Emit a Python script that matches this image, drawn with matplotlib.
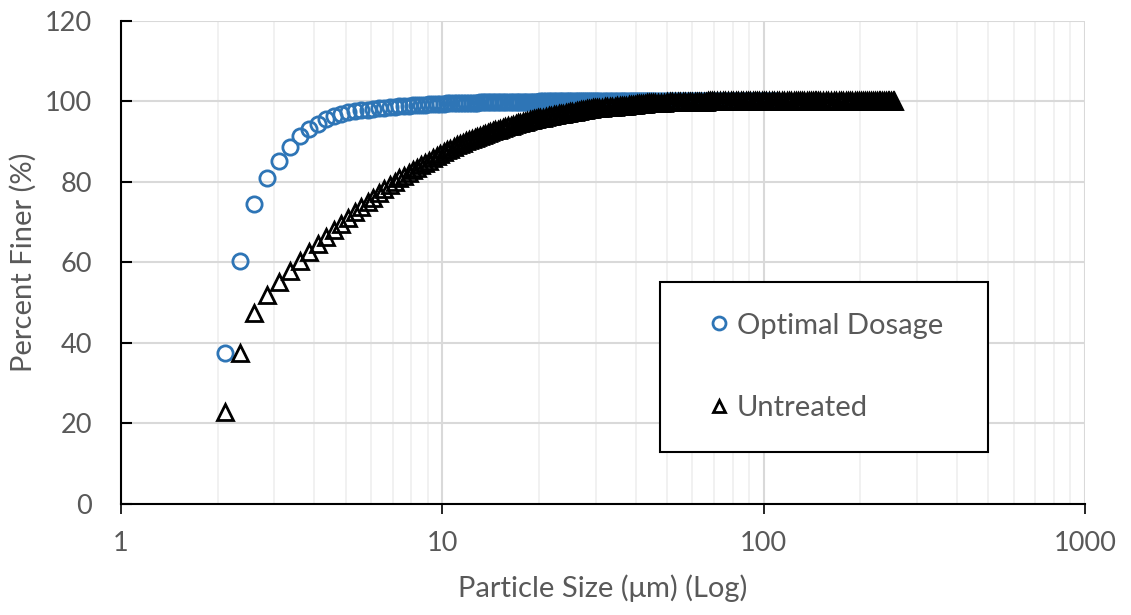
import matplotlib
matplotlib.use('Agg')
import matplotlib.pyplot as plt
from matplotlib.patches import Rectangle
from matplotlib.ticker import FixedLocator, LogLocator, NullFormatter

# Particle size channels, µm
size_um = [
    2.1, 2.35, 2.6, 2.85, 3.1, 3.35, 3.6, 3.85, 4.1, 4.35, 4.6, 4.85, 5.1, 5.35,
    5.6, 5.85, 6.1, 6.35, 6.6, 6.85, 7.1, 7.35, 7.6, 7.85, 8.1, 8.35, 8.6, 8.85,
    9.1, 9.35, 9.6, 9.85, 10.1, 10.35, 10.6, 10.85, 11.1, 11.35, 11.6, 11.85,
    12.1, 12.35, 12.6, 12.85, 13.1, 13.35, 13.6, 13.85, 14.1, 14.35, 14.6, 14.85,
    15.1,
    15.4, 15.7, 16.0, 16.3, 16.6, 16.9, 17.2, 17.5, 17.8, 18.1, 18.4, 18.7, 19.0,
    19.3, 19.6, 19.9, 20.2,
    20.6, 21.0, 21.4, 21.8, 22.2, 22.6, 23.0, 23.4, 23.8, 24.2, 24.6, 25.0, 25.4,
    25.8, 26.2, 26.6, 27.0, 27.4, 27.8, 28.2, 28.6, 29.0, 29.4, 29.8, 30.2,
    30.8, 31.4, 32.0, 32.6, 33.2, 33.8, 34.4, 35.0, 35.6, 36.2, 36.8, 37.4, 38.0,
    38.6, 39.2, 39.8, 40.4, 41.0, 41.6, 42.2, 42.8, 43.4, 44.0, 44.6, 45.2,
    46, 47, 48, 49, 50, 51, 52, 53, 54, 55, 56, 57, 58, 59, 60, 61, 62, 63, 64,
    65, 66, 67, 68, 69, 70,
    71.5, 73, 74.5, 76, 77.5, 79, 80.5, 82, 83.5, 85, 86.5, 88, 89.5, 91, 92.5,
    94, 95.5, 97, 98.5, 100,
    102, 104, 106, 108, 110, 112, 114, 116, 118, 120, 122, 124, 126, 128, 130,
    132, 134, 136, 138, 140, 142, 144, 146, 148, 150,
    153, 156, 159, 162, 165, 168, 171, 174, 177, 180, 183, 186, 189, 192, 195,
    198, 201, 204, 207, 210, 213, 216, 219, 222, 225, 228, 231, 234, 237, 240,
    243, 246, 249, 252, 255,
]

# Percent finer, optimal dosage (measured up to ~110 µm)
optimal_pct = [
    37.5, 60.4, 74.5, 81.0, 85.3, 88.6, 91.3, 93.2, 94.5, 95.6, 96.4, 96.9, 97.3,
    97.6, 97.8, 98.0, 98.15, 98.3, 98.45, 98.6, 98.7, 98.8, 98.9, 99.0, 99.05,
    99.1, 99.15, 99.2, 99.25, 99.3, 99.35, 99.4, 99.45, 99.5, 99.5, 99.55, 99.55,
    99.6, 99.6, 99.65, 99.65, 99.7, 99.7, 99.7, 99.75, 99.75, 99.75, 99.8, 99.8,
    99.8, 99.8, 99.85, 99.85,
    99.85, 99.85, 99.9, 99.9, 99.9, 99.9, 99.9, 99.9, 99.95, 99.95, 99.95, 99.95,
    99.95, 99.95, 99.95, 99.95, 100.0,
    100.0, 100.0, 100.0, 100.0, 100.0, 100.0, 100.0, 100.0, 100.0, 100.0, 100.0,
    100.0, 100.0, 100.0, 100.0, 100.0, 100.0, 100.0, 100.0, 100.0, 100.0, 100.0,
    100.0, 100.0, 100.0,
    100.0, 100.0, 100.0, 100.0, 100.0, 100.0, 100.0, 100.0, 100.0, 100.0, 100.0,
    100.0, 100.0, 100.0, 100.0, 100.0, 100.0, 100.0, 100.0, 100.0, 100.0, 100.0,
    100.0, 100.0, 100.0,
    100.0, 100.0, 100.0, 100.0, 100.0, 100.0, 100.0, 100.0, 100.0, 100.0, 100.0,
    100.0, 100.0, 100.0, 100.0, 100.0, 100.0, 100.0, 100.0, 100.0, 100.0, 100.0,
    100.0, 100.0, 100.0,
    100.0, 100.0, 100.0, 100.0, 100.0, 100.0, 100.0, 100.0, 100.0, 100.0, 100.0,
    100.0, 100.0, 100.0, 100.0, 100.0, 100.0, 100.0, 100.0, 100.0,
    100.0, 100.0, 100.0, 100.0, 100.0,
]

# Percent finer, untreated sample
untreated_pct = [
    22.8, 37.6, 47.4, 51.9, 55.1, 57.9, 60.4, 62.6, 64.5, 66.3, 68.0, 69.6, 71.1,
    72.5, 73.8, 75.0, 76.1, 77.2, 78.2, 79.2, 80.1, 80.9, 81.6, 82.3, 82.9, 83.5,
    84.1, 84.7, 85.3, 85.9, 86.4, 86.9, 87.4, 87.9, 88.3, 88.7, 89.1, 89.5, 89.8,
    90.1, 90.4, 90.7, 91.0, 91.2, 91.5, 91.7, 92.0, 92.2, 92.4, 92.6, 92.8, 93.0,
    93.2,
    93.4, 93.6, 93.8, 94.0, 94.2, 94.4, 94.55, 94.7, 94.85, 95.0, 95.15, 95.3,
    95.45, 95.6, 95.7, 95.8, 95.9,
    96.0, 96.15, 96.3, 96.45, 96.6, 96.7, 96.8, 96.9, 97.0, 97.1, 97.2, 97.3,
    97.4, 97.5, 97.6, 97.7, 97.8, 97.9, 98.0, 98.1, 98.2, 98.25, 98.3, 98.35,
    98.4,
    98.45, 98.5, 98.55, 98.6, 98.65, 98.7, 98.75, 98.8, 98.85, 98.9, 98.95, 99.0,
    99.05, 99.1, 99.15, 99.2, 99.25, 99.3, 99.35, 99.4, 99.45, 99.5, 99.55, 99.6,
    99.6,
    99.65, 99.65, 99.7, 99.7, 99.75, 99.75, 99.8, 99.8, 99.8, 99.85, 99.85, 99.85,
    99.9, 99.9, 99.9, 99.9, 99.95, 99.95, 99.95, 99.95, 99.95, 100.0, 100.0,
    100.0, 100.0,
    100.0, 100.0, 100.0, 100.0, 100.0, 100.0, 100.0, 100.0, 100.0, 100.0, 100.0,
    100.0, 100.0, 100.0, 100.0, 100.0, 100.0, 100.0, 100.0, 100.0,
    100.0, 100.0, 100.0, 100.0, 100.0, 100.0, 100.0, 100.0, 100.0, 100.0, 100.0,
    100.0, 100.0, 100.0, 100.0, 100.0, 100.0, 100.0, 100.0, 100.0, 100.0, 100.0,
    100.0, 100.0, 100.0,
    100.0, 100.0, 100.0, 100.0, 100.0, 100.0, 100.0, 100.0, 100.0, 100.0, 100.0,
    100.0, 100.0, 100.0, 100.0, 100.0, 100.0, 100.0, 100.0, 100.0, 100.0, 100.0,
    100.0, 100.0, 100.0, 100.0, 100.0, 100.0, 100.0, 100.0, 100.0, 100.0, 100.0,
    100.0, 100.0,
]

x_ticks = [1, 10, 100, 1000]
y_ticks = [0, 20, 40, 60, 80, 100, 120]

TEXT = '#595959'
BLUE = '#2e75b6'

plt.rcParams['font.family'] = ['Lato', 'DejaVu Sans']

fig = plt.figure(figsize=(11.31, 6.15), dpi=100)
ax = fig.add_axes([0.107, 0.1805, 0.8523, 0.7854])

ax.plot(size_um[:len(optimal_pct)], optimal_pct, linestyle='none', marker='o',
        markersize=11, markerfacecolor='none', markeredgecolor=BLUE,
        markeredgewidth=2.0, label='Optimal Dosage', zorder=3)
ax.plot(size_um, untreated_pct, linestyle='none', marker='^',
        markersize=11, markerfacecolor='none', markeredgecolor='black',
        markeredgewidth=2.0, label='Untreated', zorder=4)

ax.set_xscale('log')
ax.set_xlim(1, 1000)
ax.set_ylim(0, 120)
ax.xaxis.set_major_locator(FixedLocator(x_ticks))
ax.set_xticklabels([str(t) for t in x_ticks])
ax.xaxis.set_minor_locator(LogLocator(base=10, subs=range(2, 10)))
ax.xaxis.set_minor_formatter(NullFormatter())
ax.set_yticks(y_ticks)

ax.set_axisbelow(True)
ax.grid(which='major', color='#d9d9d9', linewidth=1.5)
ax.grid(which='minor', axis='x', color='#efefef', linewidth=1.2)

for side in ['top', 'right']:
    ax.spines[side].set_visible(False)
for side in ['left', 'bottom']:
    ax.spines[side].set_color('black')
    ax.spines[side].set_linewidth(1.5)

ax.tick_params(axis='x', which='major', direction='out', length=7.5, width=1.2,
               color='black', pad=12, labelsize=19.5, labelcolor=TEXT)
ax.tick_params(axis='x', which='minor', length=0)
ax.tick_params(axis='y', direction='in', length=8, width=1.5, color='black',
               pad=21, labelsize=19.5, labelcolor=TEXT)

ax.set_xlabel('Particle Size (μm) (Log)', fontsize=21, color=TEXT, labelpad=13)
ax.set_ylabel('Percent Finer (%)', fontsize=21, color=TEXT, labelpad=6)

# legend box drawn as a plain rectangle, entries placed inside it
ax.add_patch(Rectangle((0.559, 0.1077), 0.340, 0.3519, transform=ax.transAxes,
                       facecolor='white', edgecolor='black', linewidth=1.5,
                       zorder=5))
leg = ax.legend(loc='center left', bbox_to_anchor=(0.590, 0.2836),
                frameon=False, fontsize=21, labelcolor=TEXT, borderpad=0,
                handlelength=1.0, handletextpad=0.12, labelspacing=1.95,
                markerscale=0.85)
leg.set_zorder(6)

fig.savefig('out.png', dpi=100)
